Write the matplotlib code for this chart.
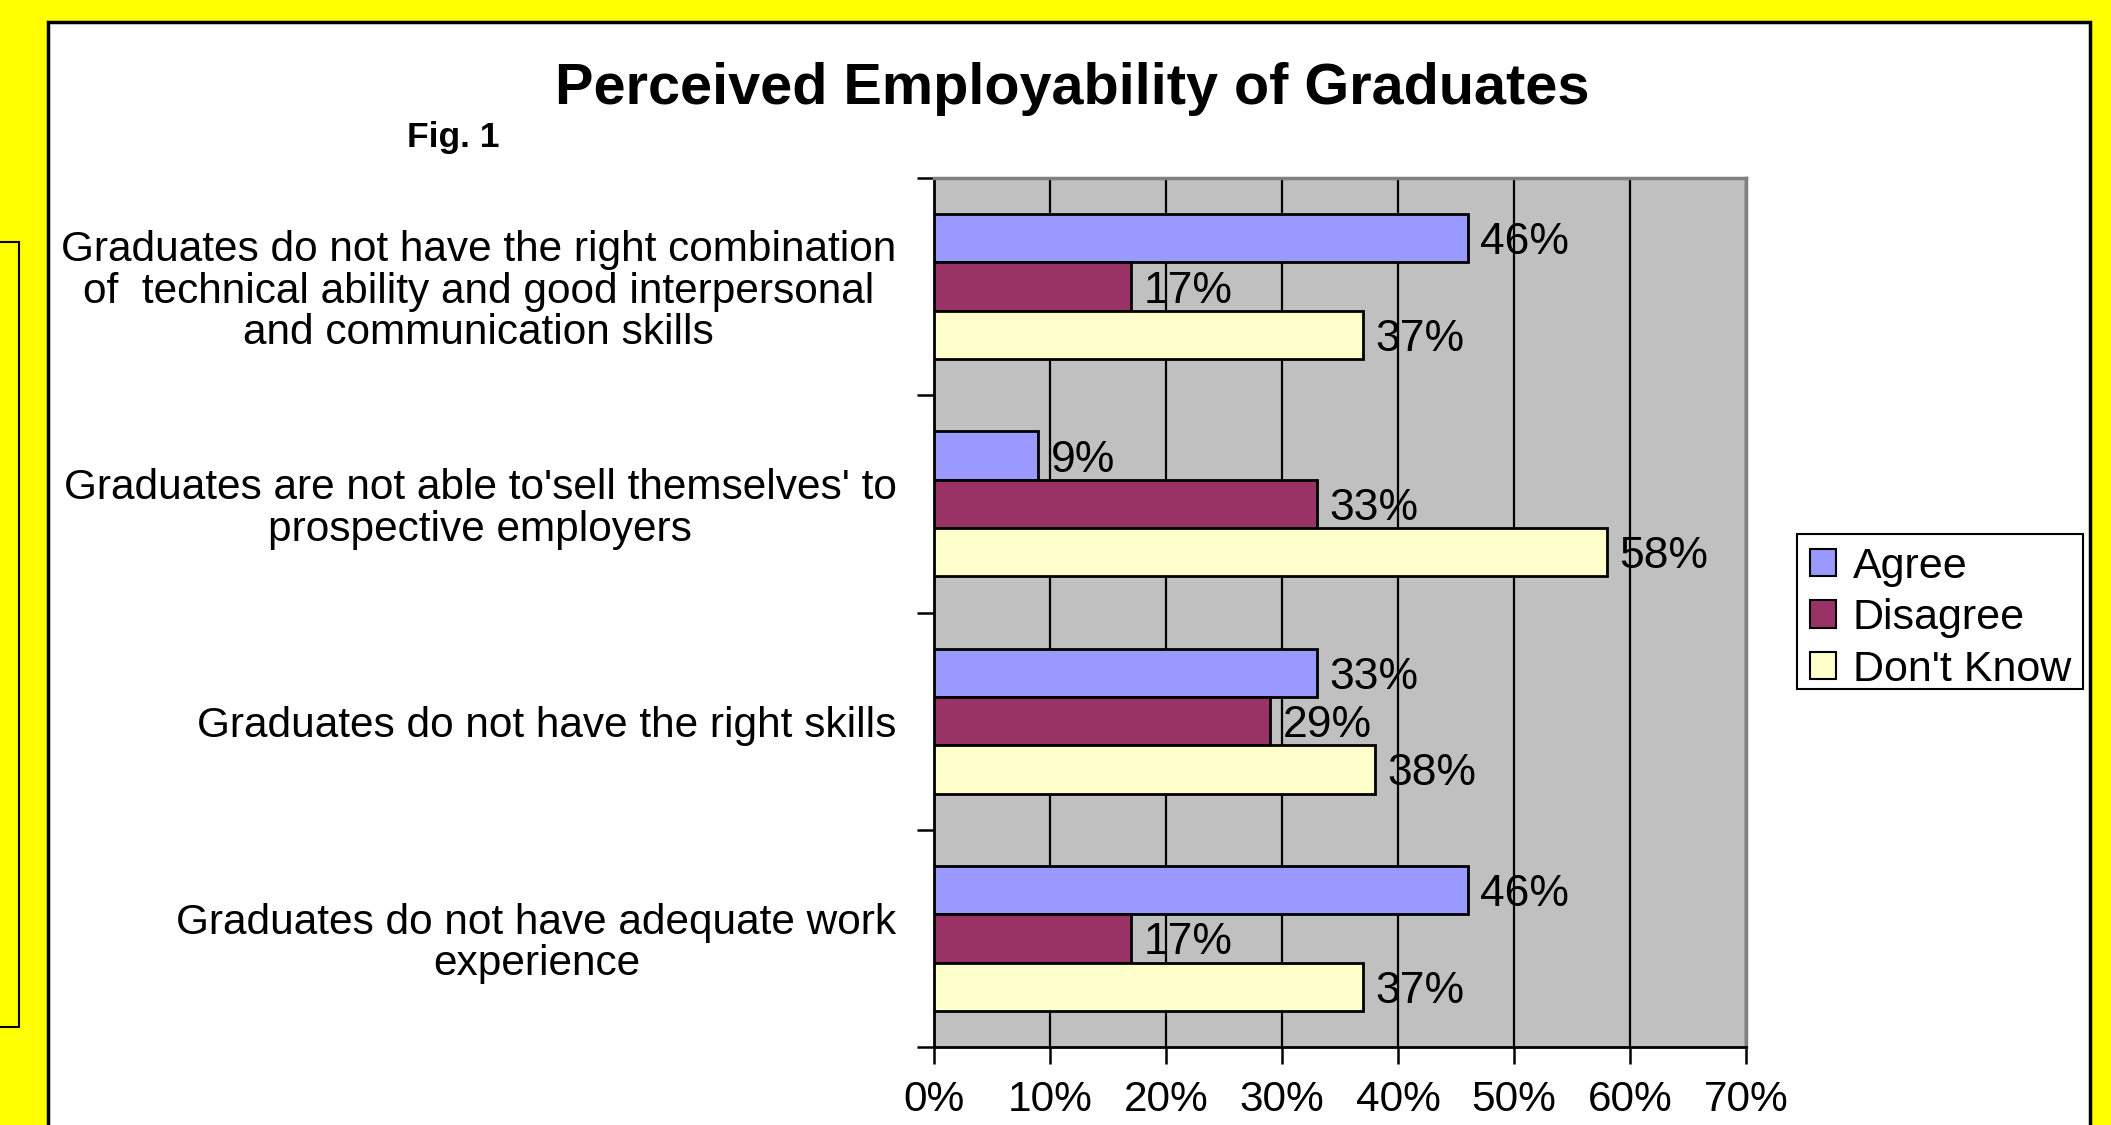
import matplotlib.pyplot as plt
from matplotlib.patches import Rectangle
from matplotlib.ticker import PercentFormatter

plt.rcParams['font.family'] = ['Liberation Sans', 'DejaVu Sans']

categories = [
    "Graduates do not have the right combination\nof  technical ability and good interpersonal\nand communication skills",
    "Graduates are not able to'sell themselves' to\nprospective employers",
    "Graduates do not have the right skills",
    "Graduates do not have adequate work\nexperience",
]
series = ["Agree", "Disagree", "Don't Know"]
agree = [46, 9, 33, 46]
disagree = [17, 33, 29, 17]
dont_know = [37, 58, 38, 37]
colors = ["#9999FF", "#993366", "#FFFFCC"]
x_ticks = [0, 10, 20, 30, 40, 50, 60, 70]

fig = plt.figure(figsize=(21.11, 11.25), dpi=100)
fig.patch.set_facecolor("#FFFF00")

# white chart area, the stray box at the left edge, legend frame
fig.patches.append(Rectangle((0.0227, -0.02), 0.9673, 1.0004, transform=fig.transFigure,
                             facecolor="white", edgecolor="black", linewidth=2.5, zorder=-2))
fig.patches.append(Rectangle((-0.02, 0.0871), 0.029, 0.6978, transform=fig.transFigure,
                             facecolor="none", edgecolor="black", linewidth=1.5, zorder=-2))
fig.patches.append(Rectangle((0.8513, 0.3876), 0.1355, 0.1377, transform=fig.transFigure,
                             facecolor="white", edgecolor="black", linewidth=1.5, zorder=-1))

ax = fig.add_axes([0.4424, 0.0693, 0.3847, 0.7725])
ax.set_facecolor("#C0C0C0")

h = 1 / 4.5
ypos = list(range(len(categories)))
for i, (name, vals) in enumerate(zip(series, [agree, disagree, dont_know])):
    ys = [y + (i - 1) * h for y in ypos]
    ax.barh(ys, vals, height=h, color=colors[i], edgecolor="black", linewidth=2,
            label=name, zorder=3)
    for y, v in zip(ys, vals):
        ax.annotate(f"{v}%", (v, y), xytext=(9, 0), textcoords="offset points",
                    va="center_baseline", ha="left", fontsize=32, zorder=4)

ax.set_xlim(0, 70)
ax.set_ylim(len(categories) - 0.5, -0.5)
ax.set_xticks(x_ticks)
ax.xaxis.set_major_formatter(PercentFormatter(decimals=0))
ax.grid(axis="x", color="black", linewidth=1.6, zorder=1)
ax.set_axisbelow(True)

ax.set_yticks(ypos)
ax.set_yticklabels(categories, multialignment="center", linespacing=1.05)
ax.set_yticks([-0.5, 0.5, 1.5, 2.5, 3.5], minor=True)
ax.tick_params(axis="y", which="major", length=0, pad=27, labelsize=30.5)
ax.tick_params(axis="y", which="minor", length=12, width=1.8, direction="out")
ax.tick_params(axis="x", length=12, width=1.8, direction="out", pad=12, labelsize=30.5)

for s in ["top", "right"]:
    ax.spines[s].set_color("#808080")
    ax.spines[s].set_linewidth(2.5)
for s in ["left", "bottom"]:
    ax.spines[s].set_color("black")
    ax.spines[s].set_linewidth(2)

fig.text(0.5078, 0.921, "Perceived Employability of Graduates", ha="center", va="center",
         fontsize=41.5, fontweight="bold")
fig.text(0.1928, 0.878, "Fig. 1", ha="left", va="center", fontsize=25.5, fontweight="bold")

leg = ax.legend(loc="upper left", bbox_to_anchor=(0.8532, 0.5217), bbox_transform=fig.transFigure,
                fontsize=31, frameon=False, handlelength=0.6, handleheight=0.6,
                handletextpad=0.4, borderpad=0.2, labelspacing=0.27, borderaxespad=0)
for p in leg.get_patches():
    p.set_linewidth(1.5)

fig.savefig("out.png", dpi=100, facecolor=fig.get_facecolor())
